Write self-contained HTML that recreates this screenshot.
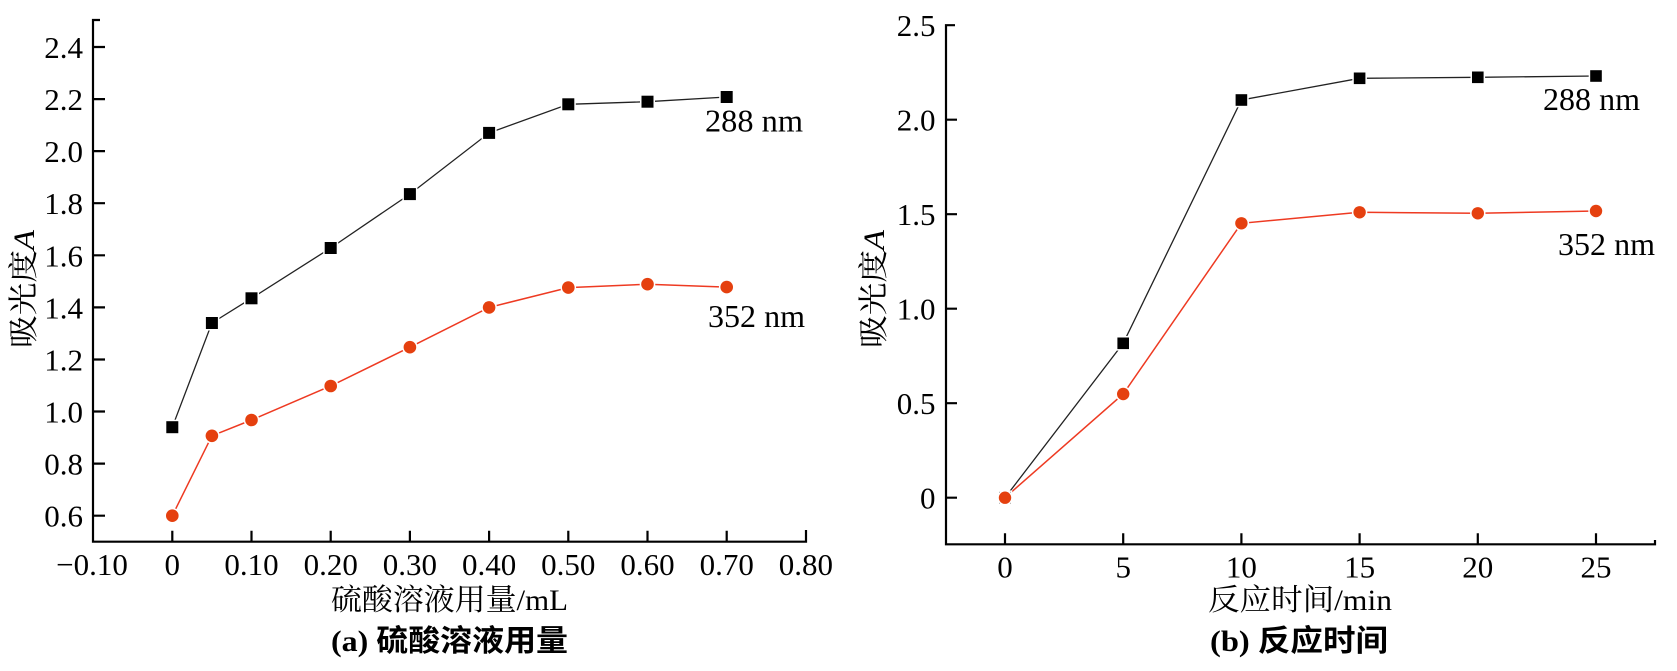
<!DOCTYPE html>
<html>
<head>
<meta charset="utf-8">
<style>
html,body{margin:0;padding:0;background:#fff;}
svg{display:block;}
.tk{font-family:"Liberation Serif","DejaVu Serif",serif;font-size:31px;fill:#000;}
.lab{font-family:"Liberation Serif","DejaVu Serif",serif;font-size:32px;fill:#000;}
.ttl{font-family:"Liberation Serif","Noto Serif CJK SC","Noto Sans CJK SC",serif;font-size:30px;fill:#000;}
.cap{font-family:"Liberation Serif","Noto Sans CJK SC",sans-serif;font-size:30px;font-weight:bold;fill:#000;}
</style>
</head>
<body>
<svg width="1677" height="671" viewBox="0 0 1677 671" xmlns="http://www.w3.org/2000/svg">
<rect width="1677" height="671" fill="#fff"/>

<!-- ================= LEFT CHART ================= -->
<g stroke="#000" stroke-width="2.2" fill="none">
  <path d="M100,20 H93 V541.7 H806 V530"/>
  <path d="M93,515.7 h12 M93,463.6 h12 M93,411.5 h12 M93,359.5 h12 M93,307.4 h12 M93,255.3 h12 M93,203.2 h12 M93,151.1 h12 M93,99.1 h12 M93,47 h12"/>
  <path d="M172.3,541.7 v-11 M251.5,541.7 v-11 M330.7,541.7 v-11 M409.9,541.7 v-11 M489.1,541.7 v-11 M568.3,541.7 v-11 M647.5,541.7 v-11 M726.7,541.7 v-11"/>
</g>
<g class="tk" text-anchor="end">
  <text x="83" y="526.7">0.6</text>
  <text x="83" y="474.6">0.8</text>
  <text x="83" y="422.5">1.0</text>
  <text x="83" y="370.5">1.2</text>
  <text x="83" y="318.4">1.4</text>
  <text x="83" y="266.3">1.6</text>
  <text x="83" y="214.2">1.8</text>
  <text x="83" y="162.1">2.0</text>
  <text x="83" y="110.1">2.2</text>
  <text x="83" y="58">2.4</text>
</g>
<g class="tk" text-anchor="middle">
  <text x="92" y="575">−0.10</text>
  <text x="172.3" y="575">0</text>
  <text x="251.5" y="575">0.10</text>
  <text x="330.7" y="575">0.20</text>
  <text x="409.9" y="575">0.30</text>
  <text x="489.1" y="575">0.40</text>
  <text x="568.3" y="575">0.50</text>
  <text x="647.5" y="575">0.60</text>
  <text x="726.7" y="575">0.70</text>
  <text x="805.9" y="575">0.80</text>
</g>
<text class="ttl" x="331" y="610" textLength="237" lengthAdjust="spacingAndGlyphs">硫酸溶液用量/mL</text>
<text class="cap" x="331" y="651" textLength="237" lengthAdjust="spacingAndGlyphs">(a) 硫酸溶液用量</text>
<text class="ttl" transform="translate(34,289) rotate(-90)" text-anchor="middle" textLength="118" lengthAdjust="spacingAndGlyphs">吸光度<tspan font-style="italic">A</tspan></text>

<polyline fill="none" stroke="#222" stroke-width="1.3" points="172.3,427.2 211.9,323 251.5,298.3 330.7,248 409.9,194.1 489.1,132.9 568.3,104.3 647.5,101.7 726.7,97"/>
<polyline fill="none" stroke="#ee3a22" stroke-width="1.5" points="172.3,515.7 211.9,435.8 251.5,420 330.7,386 409.9,347.2 489.1,307.4 568.3,287.6 647.5,284.2 726.7,287.1"/>
<g fill="#000" stroke="#fff" stroke-width="3" paint-order="stroke">
  <rect x="166.3" y="421.2" width="12" height="12"/>
  <rect x="205.9" y="317" width="12" height="12"/>
  <rect x="245.5" y="292.3" width="12" height="12"/>
  <rect x="324.7" y="242" width="12" height="12"/>
  <rect x="403.9" y="188.1" width="12" height="12"/>
  <rect x="483.1" y="126.9" width="12" height="12"/>
  <rect x="562.3" y="98.3" width="12" height="12"/>
  <rect x="641.5" y="95.7" width="12" height="12"/>
  <rect x="720.7" y="91" width="12" height="12"/>
</g>
<g fill="#e5400f" stroke="#fff" stroke-width="3" paint-order="stroke">
  <circle cx="172.3" cy="515.7" r="6.3"/>
  <circle cx="211.9" cy="435.8" r="6.3"/>
  <circle cx="251.5" cy="420" r="6.3"/>
  <circle cx="330.7" cy="386" r="6.3"/>
  <circle cx="409.9" cy="347.2" r="6.3"/>
  <circle cx="489.1" cy="307.4" r="6.3"/>
  <circle cx="568.3" cy="287.6" r="6.3"/>
  <circle cx="647.5" cy="284.2" r="6.3"/>
  <circle cx="726.7" cy="287.1" r="6.3"/>
</g>
<text class="lab" x="705" y="131.7" textLength="98" lengthAdjust="spacingAndGlyphs">288 nm</text>
<text class="lab" x="708" y="327" textLength="97" lengthAdjust="spacingAndGlyphs">352 nm</text>

<!-- ================= RIGHT CHART ================= -->
<g stroke="#000" stroke-width="2.2" fill="none">
  <path d="M955,25.2 H946 V544.3 H1655 V540"/>
  <path d="M946,497.7 h11 M946,403.2 h11 M946,308.7 h11 M946,214.2 h11 M946,119.7 h11"/>
  <path d="M1005,544.3 v-11 M1123.2,544.3 v-11 M1241.4,544.3 v-11 M1359.6,544.3 v-11 M1477.8,544.3 v-11 M1596,544.3 v-11"/>
</g>
<g class="tk" text-anchor="end">
  <text x="935.5" y="508.7">0</text>
  <text x="935.5" y="414.2">0.5</text>
  <text x="935.5" y="319.7">1.0</text>
  <text x="935.5" y="225.2">1.5</text>
  <text x="935.5" y="130.7">2.0</text>
  <text x="935.5" y="36.2">2.5</text>
</g>
<g class="tk" text-anchor="middle">
  <text x="1005" y="577.5">0</text>
  <text x="1123.2" y="577.5">5</text>
  <text x="1241.4" y="577.5">10</text>
  <text x="1359.6" y="577.5">15</text>
  <text x="1477.8" y="577.5">20</text>
  <text x="1596" y="577.5">25</text>
</g>
<text class="ttl" x="1208" y="610" textLength="184" lengthAdjust="spacingAndGlyphs">反应时间/min</text>
<text class="cap" x="1210" y="651" textLength="178" lengthAdjust="spacingAndGlyphs">(b) 反应时间</text>
<text class="ttl" transform="translate(884,289) rotate(-90)" text-anchor="middle" textLength="118" lengthAdjust="spacingAndGlyphs">吸光度<tspan font-style="italic">A</tspan></text>

<polyline fill="none" stroke="#222" stroke-width="1.3" points="1005,497.7 1123.2,343.3 1241.4,100 1359.6,78.3 1477.8,77.3 1596,76"/>
<polyline fill="none" stroke="#ee3a22" stroke-width="1.5" points="1005,497.7 1123.2,394 1241.4,223.3 1359.6,212.3 1477.8,213.3 1596,211"/>
<g fill="#000" stroke="#fff" stroke-width="3" paint-order="stroke">
  <rect x="999.2" y="491.9" width="11.6" height="11.6"/>
  <rect x="1117.4" y="337.5" width="11.6" height="11.6"/>
  <rect x="1235.6" y="94.2" width="11.6" height="11.6"/>
  <rect x="1353.8" y="72.5" width="11.6" height="11.6"/>
  <rect x="1472" y="71.5" width="11.6" height="11.6"/>
  <rect x="1590.2" y="70.2" width="11.6" height="11.6"/>
</g>
<g fill="#e5400f" stroke="#fff" stroke-width="3" paint-order="stroke">
  <circle cx="1005" cy="497.7" r="6.2"/>
  <circle cx="1123.2" cy="394" r="6.2"/>
  <circle cx="1241.4" cy="223.3" r="6.2"/>
  <circle cx="1359.6" cy="212.3" r="6.2"/>
  <circle cx="1477.8" cy="213.3" r="6.2"/>
  <circle cx="1596" cy="211" r="6.2"/>
</g>
<text class="lab" x="1543" y="110" textLength="97" lengthAdjust="spacingAndGlyphs">288 nm</text>
<text class="lab" x="1558" y="255" textLength="97" lengthAdjust="spacingAndGlyphs">352 nm</text>
</svg>
</body>
</html>
